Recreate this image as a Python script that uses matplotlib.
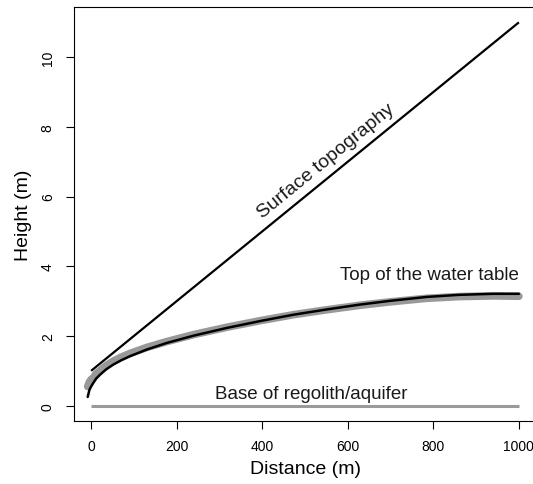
import numpy as np
import matplotlib
matplotlib.use("Agg")
import matplotlib.pyplot as plt

plt.rcParams['font.family'] = ['Liberation Sans', 'DejaVu Sans']

# surface topography (straight line)
topo_x = [0, 1000]
topo_y = [1, 11]

# base of regolith / aquifer
base_x = [0, 1000]
base_y = [0, 0]

# top of the water table (black curve)
wt_x = [-8, -4, 0, 5, 12, 21, 35, 52, 70, 91, 130, 177, 240, 317, 400,
        473, 550, 628, 700, 784, 860, 940, 1000]
wt_y = [0.25, 0.45, 0.55, 0.65, 0.78, 0.89, 1.04, 1.18, 1.30, 1.42, 1.61,
        1.80, 2.01, 2.23, 2.44, 2.61, 2.76, 2.90, 3.01, 3.12, 3.18, 3.21, 3.21]

# grey band under the water table curve
band_y = [0.55, 0.68, 0.75, 0.80, 0.92, 1.01, 1.15, 1.28, 1.39, 1.50, 1.67,
          1.84, 2.04, 2.25, 2.45, 2.61, 2.75, 2.88, 2.98, 3.08, 3.13, 3.15, 3.14]

fig = plt.figure(figsize=(5.33, 4.85), dpi=100)
ax = fig.add_axes([74/533, 63/485, 462/533, 414/485])

ax.plot(topo_x, topo_y, color='black', lw=1.6, solid_capstyle='butt')
ax.plot(base_x, base_y, color='#9a9a9a', lw=2.2, solid_capstyle='butt')
ax.plot(wt_x, band_y, color='#999999', lw=5.5, solid_capstyle='round')
ax.plot(wt_x, wt_y, color='black', lw=1.8, solid_capstyle='round')

txt = '#1a1a1a'
ax.text(550, 7.05, 'Surface topography', rotation=39.1, rotation_mode='anchor',
        ha='center', va='center', fontsize=14, color=txt)
ax.text(790, 3.76, 'Top of the water table', ha='center', va='center',
        fontsize=13.5, color=txt)
ax.text(515, 0.35, 'Base of regolith/aquifer', ha='center', va='center',
        fontsize=13.5, color=txt)

ax.set_xlim(-40, 1040)
ax.set_ylim(-0.44, 11.44)
ax.set_xticks([0, 200, 400, 600, 800, 1000])
ax.set_yticks([0, 2, 4, 6, 8, 10])
ax.tick_params(direction='out', length=5.8, width=0.8, labelsize=10, pad=7)
ax.tick_params(axis='y', labelrotation=90, pad=8)
for lab in ax.get_yticklabels():
    lab.set_va('center')
for s in ax.spines.values():
    s.set_linewidth(0.8)

ax.set_xlabel('Distance (m)', fontsize=14, labelpad=5)
ax.set_ylabel('Height (m)', fontsize=14, labelpad=6)

fig.savefig('out.png', dpi=100)
